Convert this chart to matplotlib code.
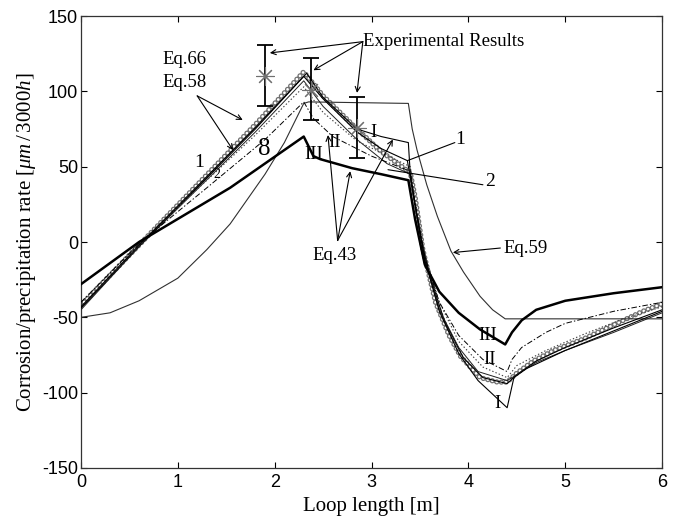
import numpy as np
import matplotlib
matplotlib.use('Agg')
import matplotlib.pyplot as plt


# ---- model curves: corrosion / precipitation rate along the loop ----
# Eq.66 (circles)
x_circ = [0.0, 0.6, 1.2, 1.8, 2.3, 2.5, 2.85, 3.1, 3.4, 3.45, 3.53, 3.66, 3.8, 3.92, 4.12, 4.3, 4.4,
          4.5, 4.67, 4.88, 5.2, 5.5, 5.8, 6.0]
y_circ = [-42, -2, 38, 78, 113, 97, 75, 60, 46, 30, -5, -40, -62, -76, -90, -93, -93,
          -87, -79, -72, -64, -55, -46, -41]

# Eq.58, line 1
x_l1 = [0.0, 0.6, 1.2, 1.8, 2.3, 2.5, 2.85, 3.1, 3.37, 3.42, 3.5, 3.6, 3.75, 3.95, 4.15, 4.4,
        4.5, 4.7, 5.0, 5.5, 6.0]
y_l1 = [-44, -3, 36, 75, 110, 95, 73, 62, 54, 35, 5, -22, -52, -77, -90, -94,
        -88, -79, -70, -57, -45]

# Eq.58, line 2
x_l2 = [0.0, 0.6, 1.2, 1.8, 2.3, 2.5, 2.85, 3.16, 3.4, 3.45, 3.55, 3.7, 3.9, 4.1, 4.4,
        4.5, 4.7, 5.0, 5.5, 6.0]
y_l2 = [-45, -3, 35, 73, 107, 90, 68, 52, 45, 25, -10, -45, -70, -86, -92,
        -88, -80, -72, -60, -47]

# Eq.43, case I
x_I = [0.0, 0.6, 1.2, 1.8, 2.33, 2.5, 2.85, 3.1, 3.38, 3.4, 3.45, 3.55, 3.7, 3.9, 4.1, 4.3, 4.4,
       4.47, 4.6, 5.0, 5.5, 6.0]
y_I = [-43, -2, 37, 76, 112, 96, 75, 70, 66, 45, 25, -12, -46, -74, -92, -104, -110,
       -90, -84, -72, -59, -46]

# Eq.43, case II (dash-dot)
x_II = [0.0, 0.6, 1.3, 1.9, 2.3, 2.4, 2.6, 3.0, 3.4, 3.45, 3.55, 3.7, 3.9, 4.15, 4.4,
        4.45, 4.55, 4.8, 5.0, 5.5, 6.0]
y_II = [-40, -1, 36, 68, 93, 82, 70, 57, 47, 25, -10, -40, -62, -78, -86,
        -78, -70, -60, -54, -46, -40]

# Eq.43, case III (thick)
x_III = [0.0, 0.6, 1.54, 2.3, 2.4, 2.47, 2.8, 3.1, 3.38, 3.45, 3.55, 3.7, 3.9, 4.12, 4.38,
         4.45, 4.55, 4.7, 5.0, 5.5, 6.0]
y_III = [-28, 0, 36, 70, 57, 55, 49, 45, 41, 15, -15, -33, -47, -58, -68,
         -60, -52, -45, -39, -34, -30]

# dotted curve inside the bundle
x_dot = [0.0, 0.6, 1.2, 1.8, 2.3, 2.5, 2.85, 3.4, 3.45, 3.55, 3.7, 3.9, 4.15, 4.4,
         4.5, 4.8, 5.2, 5.6, 6.0]
y_dot = [-40, -1, 35, 71, 103, 86, 67, 50, 28, -8, -40, -66, -83, -90,
         -82, -72, -61, -51, -43]

# Eq.59
x_59 = [0.0, 0.3, 0.6, 1.0, 1.3, 1.54, 1.9, 2.1, 2.3, 2.35, 3.38, 3.42, 3.47, 3.57, 3.68, 3.82,
        3.95, 4.12, 4.25, 4.38, 6.0]
y_59 = [-50, -47, -39, -24, -5, 12, 45, 66, 92, 93, 92, 75, 61, 38, 17, -6,
        -20, -36, -45, -51, -51]

# experimental results
x_exp = [1.90, 2.37, 2.85]
y_exp = [110, 101, 76]
err_lo = [20, 20, 20]
err_hi = [21, 21, 20]


def run():
    plt.rcParams['lines.scale_dashes'] = False
    plt.rcParams['axes.unicode_minus'] = False
    plt.rcParams['mathtext.fontset'] = 'custom'
    plt.rcParams['mathtext.rm'] = 'Liberation Serif'
    plt.rcParams['mathtext.it'] = 'Liberation Serif:italic'

    fig = plt.figure(figsize=(6.77, 5.17), dpi=100)
    ax = fig.add_axes([0.1196, 0.0948, 0.8584, 0.8742])

    # Eq.66 drawn as open circles: gray dots with a white core
    ax.plot(x_circ, y_circ, color='#707070', lw=3.8, linestyle=(0, (0.01, 3.3)),
            dash_capstyle='round', zorder=2)
    ax.plot(x_circ, y_circ, color='white', lw=2.0, linestyle=(0, (0.01, 3.3)),
            dash_capstyle='round', zorder=2)

    ax.plot(x_59, y_59, color='#303030', lw=0.8, zorder=3)
    ax.plot(x_l1, y_l1, color='black', lw=0.8, zorder=3)
    ax.plot(x_l2, y_l2, color='#202020', lw=0.7, zorder=3)
    ax.plot(x_dot, y_dot, color='#404040', lw=0.8, linestyle=(0, (1, 1.5)), zorder=3)
    ax.plot(x_I, y_I, color='black', lw=0.8, zorder=3)
    ax.plot(x_II, y_II, color='black', lw=0.7, linestyle=(0, (4, 1.5, 1, 1.5)), zorder=3)
    ax.plot(x_III, y_III, color='black', lw=1.8, zorder=3)

    ax.errorbar(x_exp, y_exp, yerr=[err_lo, err_hi], fmt='none', ecolor='black',
                elinewidth=1.3, capsize=5.5, capthick=1.3, zorder=4)
    ax.plot(x_exp, y_exp, linestyle='none', marker=(8, 2, 0), ms=13, mew=0.8,
            color='#707070', zorder=5)

    serif = 'Liberation Serif'
    fs = 13.5
    arw = dict(arrowstyle='->', lw=0.8, color='black', shrinkA=0, shrinkB=0,
               mutation_scale=9)
    ln = dict(arrowstyle='-', lw=0.8, color='black', shrinkA=0, shrinkB=0)

    # experimental results label and arrows
    ax.text(2.91, 133, 'Experimental Results', family=serif, fontsize=fs,
            va='center', ha='left')
    for hx, hy in [(1.95, 125.5), (2.40, 114), (2.85, 99)]:
        ax.annotate('', xy=(hx, hy), xytext=(2.91, 133), arrowprops=arw)

    ax.text(0.84, 121, 'Eq.66', family=serif, fontsize=fs, va='center', ha='left')
    ax.text(0.84, 106, 'Eq.58', family=serif, fontsize=fs, va='center', ha='left')
    for hx, hy in [(1.67, 81), (1.57, 61)]:
        ax.annotate('', xy=(hx, hy), xytext=(1.20, 97), arrowprops=arw)

    ax.text(1.22, 53, '1', family=serif, fontsize=14, va='center', ha='center')
    ax.text(1.40, 45, '2', family=serif, fontsize=10, va='center', ha='center')
    ax.text(1.89, 62, '8', family=serif, fontsize=18, va='center', ha='center')

    ax.text(2.40, 58, 'III', family=serif, fontsize=fs, va='center', ha='center')
    ax.text(2.62, 66, 'II', family=serif, fontsize=fs, va='center', ha='center')
    ax.text(3.02, 73, 'I', family=serif, fontsize=fs, va='center', ha='center')

    ax.text(2.62, -9, 'Eq.43', family=serif, fontsize=fs, va='center', ha='center')
    for hx, hy in [(2.55, 71), (2.78, 47), (3.22, 68)]:
        ax.annotate('', xy=(hx, hy), xytext=(2.65, 1), arrowprops=arw)

    ax.text(3.92, 68, '1', family=serif, fontsize=14, va='center', ha='center')
    ax.annotate('', xy=(3.37, 54), xytext=(3.86, 66), arrowprops=ln)
    ax.text(4.22, 40, '2', family=serif, fontsize=14, va='center', ha='center')
    ax.annotate('', xy=(3.17, 48), xytext=(4.15, 38), arrowprops=ln)

    ax.text(4.36, -4, 'Eq.59', family=serif, fontsize=fs, va='center', ha='left')
    ax.annotate('', xy=(3.84, -7), xytext=(4.33, -4), arrowprops=arw)

    ax.text(4.20, -62, 'III', family=serif, fontsize=fs, va='center', ha='center')
    ax.text(4.22, -78, 'II', family=serif, fontsize=fs, va='center', ha='center')
    ax.text(4.30, -107, 'I', family=serif, fontsize=fs, va='center', ha='center')

    ax.set_xlim(0, 6)
    ax.set_ylim(-150, 150)
    ax.set_xticks(np.arange(0, 7, 1))
    ax.set_yticks(np.arange(-150, 151, 50))
    ax.tick_params(direction='in', length=4, width=0.8, top=True, right=True,
                   labelsize=13, pad=2)
    ax.tick_params(axis='x', pad=4)
    for lab in ax.get_xticklabels() + ax.get_yticklabels():
        lab.set_family('Liberation Sans')
    for sp in ax.spines.values():
        sp.set_linewidth(0.9)
        sp.set_color('#333333')

    ax.set_xlabel('Loop length [m]', family=serif, fontsize=15, labelpad=5)
    ax.set_ylabel(r'Corrosion/precipitation rate [$\mu m\,/\,3000h$]', family=serif,
                  fontsize=15, labelpad=3)

    fig.savefig('out.png', dpi=100)


if __name__ == "__main__":

    run()
